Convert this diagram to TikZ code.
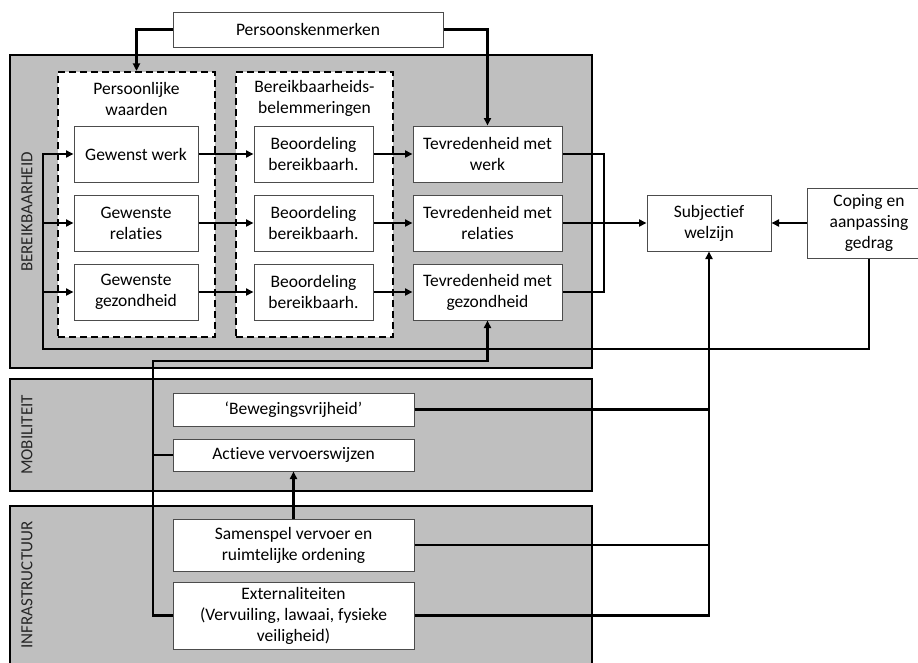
\documentclass[tikz,border=0pt]{standalone}
\usepackage{fontspec}
\setmainfont{Carlito}[RawFeature={-liga;-clig;-dlig;-calt}]
\usetikzlibrary{arrows.meta}
\begin{document}
\begin{tikzpicture}[x=1pt,y=-1pt,font=\fontsize{17.5}{21}\selectfont,
  box/.style={draw=black!70,line width=1pt,fill=white,align=center,inner sep=0pt,minimum height=#1},
  box/.default=56pt,
  grp/.style={draw,line width=2.6pt,fill=black!25},
  grens/.style={draw,dash pattern=on 7pt off 4pt,line width=2.2pt,fill=white,inner sep=0pt},
  lijn/.style={line width=2.3pt},
  pijl/.style={lijn,-{Triangle[length=7.5pt,width=7pt]}},
  zijlabel/.style={rotate=90,text=black!85,font=\fontsize{17}{20}\selectfont}]
\useasboundingbox (0,0) rectangle (918,662);
\draw[grp] (10,55) rectangle (592,368);
\draw[grp] (10,379) rectangle (592,491);
\draw[grp] (10,506) rectangle (592,664);
\node[zijlabel] (lb) at (27,212) {BEREIKBAARHEID};
\node[zijlabel] (lm) at (27,435) {MOBILITEIT};
\node[zijlabel] (li) at (27,585) {INFRASTRUCTUUR};
\node[grens,minimum width=157pt,minimum height=265pt] (pw) at (136.5,204.5) {};
\node[grens,minimum width=157pt,minimum height=265pt] (bb) at (314.5,204.5) {};
\node[align=center] (pwt) at (136.5,98.5) {Persoonlijke\\waarden};
\node[align=center] (bbt) at (314.5,98.5) {Bereikbaarheids-\\belemmeringen};
\node[box=35pt,minimum width=270pt] (pk) at (308,29.5) {Persoonskenmerken};
\foreach \i/\y/\g/\t in {1/154/{Gewenst werk}/werk,2/223/{Gewenste\\relaties}/relaties,3/292/{Gewenste\\gezondheid}/gezondheid}{
  \node[box,minimum width=124pt] (g\i) at (136,\y) {\g};
  \node[box,minimum width=119pt] (b\i) at (313.5,\y) {Beoordeling\\bereikbaarh.};
  \node[box,minimum width=149pt] (t\i) at (487.5,\y) {Tevredenheid met\\\t};
}
\node[box,minimum width=124pt] (sw) at (709,223) {Subjectief\\welzijn};
\node[box=70pt,minimum width=124pt] (cp) at (869,223) {Coping en\\aanpassing\\gedrag};
\node[box=33pt,minimum width=241pt] (bv) at (293.5,409.5) {‘Bewegingsvrijheid’};
\node[box=32pt,minimum width=241pt] (av) at (293.5,455) {Actieve vervoerswijzen};
\node[box=52pt,minimum width=241pt] (sa) at (293.5,545) {Samenspel vervoer en\\ruimtelijke ordening};
\node[box=67pt,minimum width=241pt] (ex) at (293.5,615.5) {Externaliteiten\\(Vervuiling, lawaai, fysieke\\veiligheid)};
\coordinate (j) at (604,223);
\coordinate (lus) at (43,349);
\coordinate (terug) at (153,361);
\draw[pijl] (pk.west) -| (pw.north);
\draw[pijl] (pk.east) -| (t1.north);
\foreach \i in {1,2,3}{
  \draw[pijl] (g\i.east) -- (b\i.west);
  \draw[pijl] (b\i.east) -- (t\i.west);
}
\draw[lijn] (t1.east) -| (j) |- (t3.east);
\draw[pijl] (t2.east) -- (sw.west);
\draw[pijl] (cp.west) -- (sw.east);
\draw[pijl] (cp.south) |- (lus) |- (g1.west);
\foreach \i in {2,3}{\draw[pijl] (lus |- g\i.west) -- (g\i.west);}
\draw[pijl] (ex.west) -| (terug) -| (t3.south);
\draw[lijn] (av.west) -- (av.west -| terug);
\draw[pijl] (ex.east) -| (sw.south);
\foreach \n in {bv,sa}{\draw[lijn] (\n.east) -- (\n.east -| sw.south);}
\draw[pijl] (sa.north) -- (av.south);
\end{tikzpicture}
\end{document}
